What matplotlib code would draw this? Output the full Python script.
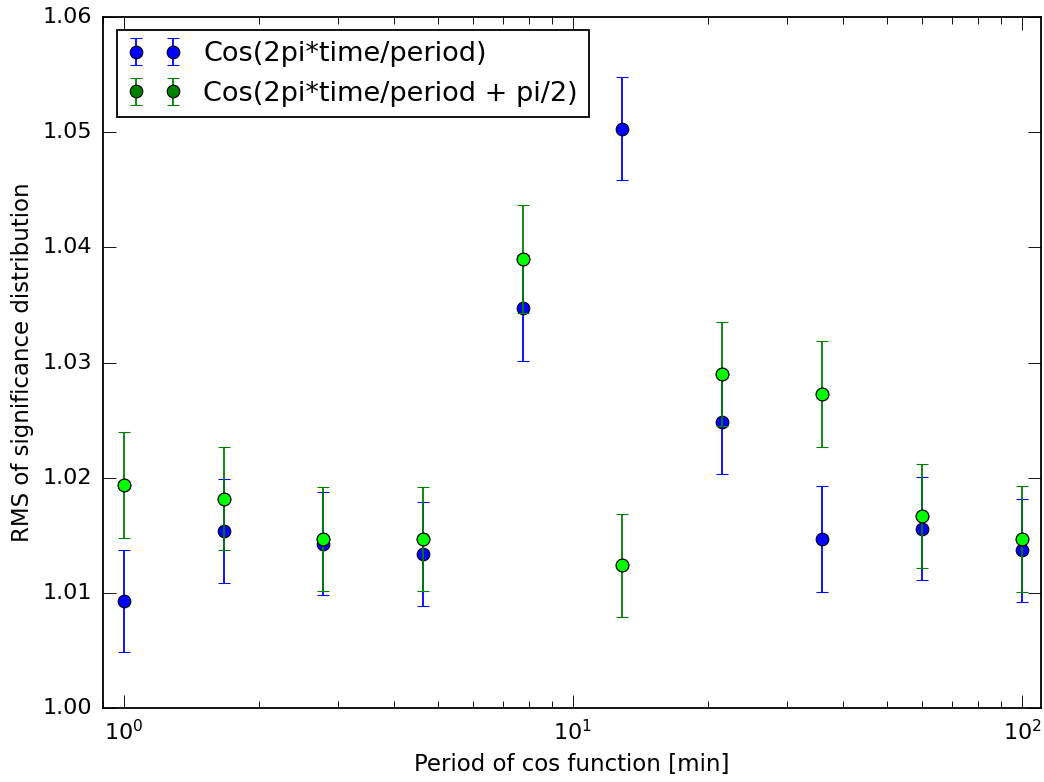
import matplotlib
matplotlib.use("Agg")
import matplotlib.pyplot as plt
from matplotlib.ticker import FormatStrFormatter

plt.style.use("classic")

# Period of the cos function [min]
periods = [1.0, 1.67, 2.78, 4.64, 7.74, 12.9, 21.5, 35.9, 59.9, 100.0]

# RMS of the significance distribution, phase 0
rms_cos = [1.0093, 1.0154, 1.0143, 1.0134, 1.0347, 1.0503, 1.0248, 1.0147, 1.0156, 1.0137]
err_cos = [0.0044, 0.0045, 0.0045, 0.0045, 0.0046, 0.0045, 0.0045, 0.0046, 0.0045, 0.0045]

# RMS of the significance distribution, phase pi/2
rms_shift = [1.0194, 1.0182, 1.0147, 1.0147, 1.0390, 1.0124, 1.0290, 1.0273, 1.0167, 1.0147]
err_shift = [0.0046, 0.0045, 0.0045, 0.0045, 0.0047, 0.0045, 0.0045, 0.0046, 0.0045, 0.0046]

label_cos = "Cos(2pi*time/period)"
label_shift = "Cos(2pi*time/period + pi/2)"

dpi = 130
fig = plt.figure(figsize=(1044 / dpi, 782 / dpi), dpi=dpi, facecolor="white")
ax = fig.add_axes([0.0987, 0.0942, 0.898, 0.8844])

ax.errorbar(periods, rms_cos, yerr=err_cos, fmt="o", color="b", ecolor="b",
            mfc="b", mec="k", mew=0.6, ms=7, capsize=3.5, elinewidth=1,
            label=label_cos, zorder=2)
ax.errorbar(periods, rms_shift, yerr=err_shift, fmt="o", color="g", ecolor="g",
            mfc="g", mec="k", mew=0.6, ms=7, capsize=3.5, elinewidth=1,
            label=label_shift, zorder=3)
# bright fill for the phase-shifted points
ax.plot(periods, rms_shift, "o", mfc="#00ff00", mec="k", mew=0.6, ms=7, zorder=4)

ax.set_xscale("log")
ax.set_xlim(0.9, 110)
ax.set_ylim(1.00, 1.06)
ax.yaxis.set_major_formatter(FormatStrFormatter("%.2f"))
ax.tick_params(axis="both", which="major", labelsize=12.3, direction="in", length=7, pad=6)
ax.tick_params(axis="both", which="minor", direction="in", length=4)

ax.set_xlabel("Period of cos function [min]", fontsize=12.7)
ax.set_ylabel("RMS of significance distribution", fontsize=12.7)

leg = ax.legend(loc="upper left", numpoints=2, fontsize=15, fancybox=False,
                frameon=True)
leg.get_frame().set_edgecolor("k")

fig.savefig("out.png", dpi=dpi, facecolor="white")
